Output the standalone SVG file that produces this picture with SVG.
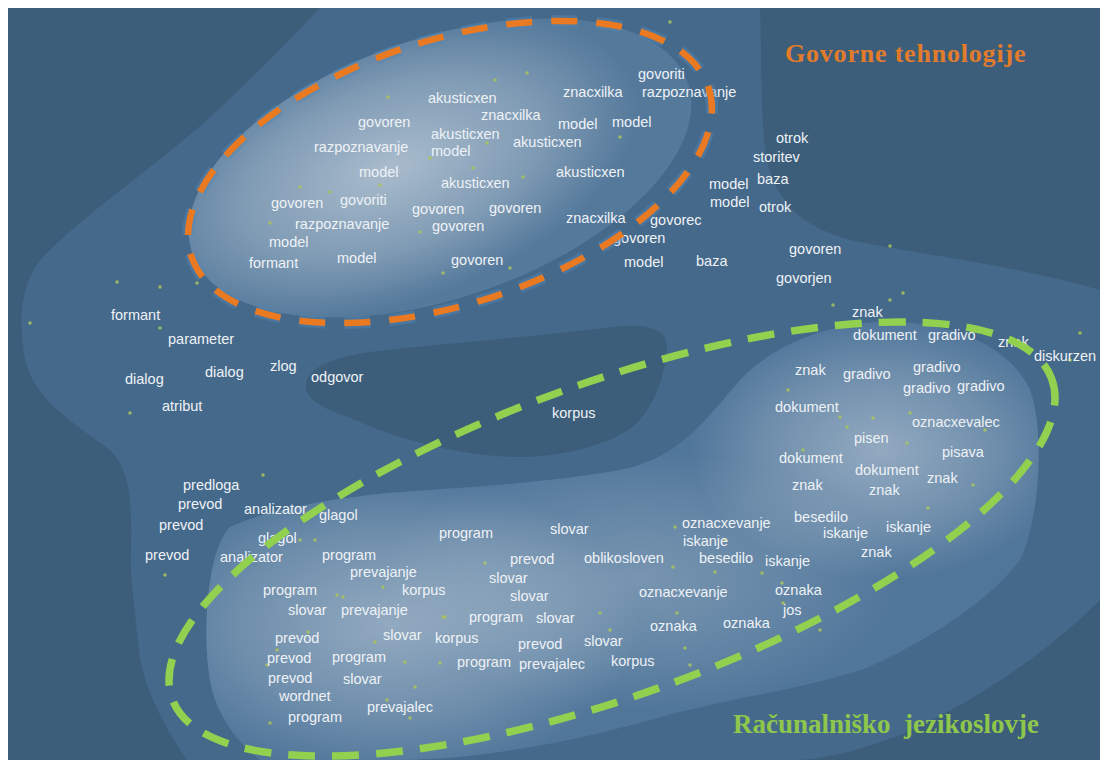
<svg xmlns="http://www.w3.org/2000/svg" width="1106" height="760" viewBox="0 0 1106 760">
<style>
.w{font-family:"Liberation Sans",Arial,sans-serif;font-size:14.5px;fill:#eef2f6}
.d{fill:#a9c35c;opacity:.85}
.t{font-family:"Liberation Serif","Times New Roman",serif;font-weight:bold}
</style>
<defs>
<radialGradient id="gw">
<stop offset="0" stop-color="#fff" stop-opacity=".5"/>
<stop offset=".6" stop-color="#fff" stop-opacity=".25"/>
<stop offset="1" stop-color="#fff" stop-opacity="0"/>
</radialGradient>
<radialGradient id="gw2">
<stop offset="0" stop-color="#fff" stop-opacity=".38"/>
<stop offset=".6" stop-color="#fff" stop-opacity=".18"/>
<stop offset="1" stop-color="#fff" stop-opacity="0"/>
</radialGradient>
<clipPath id="cb"><path d="M230,527 C260,512 320,500 387,493 C450,488 540,484 620,470 C680,458 705,420 740,380 C770,348 820,325 880,322 C950,320 1010,345 1030,390 C1045,430 1040,520 1020,560 C990,600 930,640 867,668 C800,690 720,700 650,720 C580,740 480,760 400,760 L260,760 C240,745 220,720 212,690 C203,650 206,600 212,570 C216,550 222,535 230,527 Z"/></clipPath>
<clipPath id="ct"><ellipse cx="440" cy="168" rx="262" ry="130" transform="rotate(-19 440 168)"/></clipPath>
</defs>
<rect width="1106" height="760" fill="#fff"/>
<g id="map">
<rect x="8" y="8" width="1092" height="752" fill="#3c5e7b"/>
<path d="M320,8 L760,8 C762,60 760,130 768,165 C780,205 800,225 850,240 C920,255 1000,262 1100,290 L1100,600 C1050,650 980,700 900,735 C860,750 830,758 800,760 L187,760 C160,720 140,680 138,640 C134,600 130,580 131,550 C132,500 130,470 110,450 C70,420 35,400 25,360 C18,320 20,280 45,255 C90,210 150,170 207,120 C245,85 285,45 320,8 Z" fill="#45698a"/>
<path d="M307,392 C300,370 330,358 370,352 C440,344 540,336 613,327 C645,323 668,328 667,348 C665,375 655,405 635,425 C610,445 560,458 513,457 C460,455 400,440 360,422 C335,412 312,405 307,392 Z" fill="#3c5e7b"/>
<ellipse cx="440" cy="168" rx="262" ry="130" transform="rotate(-19 440 168)" fill="#54799b"/>
<g clip-path="url(#ct)">
<ellipse cx="390" cy="168" rx="260" ry="135" transform="rotate(-19 390 168)" fill="url(#gw)"/>
</g>
<path d="M230,527 C260,512 320,500 387,493 C450,488 540,484 620,470 C680,458 705,420 740,380 C770,348 820,325 880,322 C950,320 1010,345 1030,390 C1045,430 1040,520 1020,560 C990,600 930,640 867,668 C800,690 720,700 650,720 C580,740 480,760 400,760 L260,760 C240,745 220,720 212,690 C203,650 206,600 212,570 C216,550 222,535 230,527 Z" fill="#50769a"/>
<g clip-path="url(#cb)">
<ellipse cx="390" cy="625" rx="250" ry="150" fill="url(#gw2)"/>
<ellipse cx="880" cy="450" rx="190" ry="130" fill="url(#gw2)"/>
<ellipse cx="640" cy="580" rx="260" ry="130" fill="url(#gw2)" opacity=".6"/>
</g>
</g>
<g id="dots">
<circle class="d" cx="117" cy="282" r="1.8"/><circle class="d" cx="160" cy="287" r="1.8"/><circle class="d" cx="197" cy="283" r="1.8"/><circle class="d" cx="30" cy="323" r="1.8"/><circle class="d" cx="160" cy="328" r="1.8"/><circle class="d" cx="130" cy="413" r="1.8"/>
<circle class="d" cx="388" cy="97" r="1.8"/><circle class="d" cx="495" cy="80" r="1.8"/><circle class="d" cx="527" cy="73" r="1.8"/><circle class="d" cx="473" cy="168" r="1.8"/><circle class="d" cx="430" cy="158" r="1.8"/><circle class="d" cx="300" cy="187" r="1.8"/><circle class="d" cx="330" cy="192" r="1.8"/><circle class="d" cx="380" cy="185" r="1.8"/><circle class="d" cx="270" cy="223" r="1.8"/><circle class="d" cx="443" cy="273" r="1.8"/><circle class="d" cx="510" cy="268" r="1.8"/><circle class="d" cx="420" cy="232" r="1.8"/><circle class="d" cx="523" cy="177" r="1.8"/><circle class="d" cx="487" cy="143" r="1.8"/><circle class="d" cx="620" cy="137" r="1.8"/><circle class="d" cx="670" cy="22" r="1.8"/>
<circle class="d" cx="890" cy="246" r="1.8"/><circle class="d" cx="903" cy="293" r="1.8"/><circle class="d" cx="833" cy="305" r="1.8"/><circle class="d" cx="890" cy="300" r="1.8"/><circle class="d" cx="1080" cy="333" r="1.8"/><circle class="d" cx="788" cy="390" r="1.8"/><circle class="d" cx="840" cy="417" r="1.8"/><circle class="d" cx="873" cy="418" r="1.8"/><circle class="d" cx="847" cy="427" r="1.8"/><circle class="d" cx="910" cy="413" r="1.8"/><circle class="d" cx="985" cy="430" r="1.8"/><circle class="d" cx="907" cy="443" r="1.8"/><circle class="d" cx="803" cy="450" r="1.8"/><circle class="d" cx="973" cy="485" r="1.8"/><circle class="d" cx="928" cy="508" r="1.8"/><circle class="d" cx="1070" cy="360" r="1.8"/>
<circle class="d" cx="263" cy="475" r="1.8"/><circle class="d" cx="315" cy="540" r="1.8"/><circle class="d" cx="300" cy="540" r="1.8"/><circle class="d" cx="165" cy="575" r="1.8"/><circle class="d" cx="337" cy="595" r="1.8"/><circle class="d" cx="343" cy="597" r="1.8"/><circle class="d" cx="383" cy="587" r="1.8"/><circle class="d" cx="445" cy="617" r="1.8"/><circle class="d" cx="308" cy="632" r="1.8"/><circle class="d" cx="375" cy="642" r="1.8"/><circle class="d" cx="277" cy="650" r="1.8"/><circle class="d" cx="267" cy="665" r="1.8"/><circle class="d" cx="405" cy="662" r="1.8"/><circle class="d" cx="415" cy="687" r="1.8"/><circle class="d" cx="387" cy="700" r="1.8"/><circle class="d" cx="270" cy="723" r="1.8"/><circle class="d" cx="410" cy="718" r="1.8"/>
<circle class="d" cx="675" cy="527" r="1.8"/><circle class="d" cx="725" cy="540" r="1.8"/><circle class="d" cx="485" cy="563" r="1.8"/><circle class="d" cx="673" cy="567" r="1.8"/><circle class="d" cx="715" cy="572" r="1.8"/><circle class="d" cx="762" cy="573" r="1.8"/><circle class="d" cx="782" cy="583" r="1.8"/><circle class="d" cx="443" cy="617" r="1.8"/><circle class="d" cx="600" cy="613" r="1.8"/><circle class="d" cx="610" cy="630" r="1.8"/><circle class="d" cx="677" cy="613" r="1.8"/><circle class="d" cx="783" cy="603" r="1.8"/><circle class="d" cx="685" cy="648" r="1.8"/><circle class="d" cx="440" cy="663" r="1.8"/><circle class="d" cx="690" cy="665" r="1.8"/><circle class="d" cx="820" cy="630" r="1.8"/>
</g>
<g id="labels">
<text class="w" x="428" y="103">akusticxen</text>
<text class="w" x="481" y="120">znacxilka</text>
<text class="w" x="358" y="127">govoren</text>
<text class="w" x="431" y="139">akusticxen</text>
<text class="w" x="513" y="147">akusticxen</text>
<text class="w" x="314" y="152">razpoznavanje</text>
<text class="w" x="431" y="156">model</text>
<text class="w" x="359" y="177">model</text>
<text class="w" x="441" y="188">akusticxen</text>
<text class="w" x="271" y="208">govoren</text>
<text class="w" x="340" y="205">govoriti</text>
<text class="w" x="412" y="214">govoren</text>
<text class="w" x="489" y="213">govoren</text>
<text class="w" x="295" y="229">razpoznavanje</text>
<text class="w" x="432" y="231">govoren</text>
<text class="w" x="269" y="247">model</text>
<text class="w" x="249" y="268">formant</text>
<text class="w" x="337" y="263">model</text>
<text class="w" x="451" y="265">govoren</text>
<text class="w" x="638" y="79">govoriti</text>
<text class="w" x="563" y="97">znacxilka</text>
<text class="w" x="642" y="97">razpoznavanje</text>
<text class="w" x="558" y="129">model</text>
<text class="w" x="612" y="127">model</text>
<text class="w" x="556" y="177">akusticxen</text>
<text class="w" x="776" y="143">otrok</text>
<text class="w" x="753" y="162">storitev</text>
<text class="w" x="709" y="189">model</text>
<text class="w" x="757" y="184">baza</text>
<text class="w" x="710" y="207">model</text>
<text class="w" x="759" y="212">otrok</text>
<text class="w" x="566" y="223">znacxilka</text>
<text class="w" x="650" y="225">govorec</text>
<text class="w" x="613" y="243">govoren</text>
<text class="w" x="624" y="267">model</text>
<text class="w" x="696" y="266">baza</text>
<text class="w" x="789" y="254">govoren</text>
<text class="w" x="776" y="283">govorjen</text>
<text class="w" x="111" y="320">formant</text>
<text class="w" x="168" y="344">parameter</text>
<text class="w" x="125" y="384">dialog</text>
<text class="w" x="205" y="377">dialog</text>
<text class="w" x="270" y="371">zlog</text>
<text class="w" x="311" y="382">odgovor</text>
<text class="w" x="162" y="411">atribut</text>
<text class="w" x="552" y="418">korpus</text>
<text class="w" x="852" y="317">znak</text>
<text class="w" x="853" y="340">dokument</text>
<text class="w" x="928" y="340">gradivo</text>
<text class="w" x="998" y="347">znak</text>
<text class="w" x="1034" y="361">diskurzen</text>
<text class="w" x="795" y="375">znak</text>
<text class="w" x="843" y="379">gradivo</text>
<text class="w" x="913" y="372">gradivo</text>
<text class="w" x="903" y="393">gradivo</text>
<text class="w" x="957" y="391">gradivo</text>
<text class="w" x="775" y="412">dokument</text>
<text class="w" x="912" y="427">oznacxevalec</text>
<text class="w" x="854" y="443">pisen</text>
<text class="w" x="942" y="457">pisava</text>
<text class="w" x="779" y="463">dokument</text>
<text class="w" x="855" y="475">dokument</text>
<text class="w" x="927" y="483">znak</text>
<text class="w" x="792" y="490">znak</text>
<text class="w" x="869" y="495">znak</text>
<text class="w" x="794" y="522">besedilo</text>
<text class="w" x="886" y="532">iskanje</text>
<text class="w" x="823" y="538">iskanje</text>
<text class="w" x="861" y="557">znak</text>
<text class="w" x="765" y="566">iskanje</text>
<text class="w" x="183" y="490">predloga</text>
<text class="w" x="178" y="509">prevod</text>
<text class="w" x="244" y="514">analizator</text>
<text class="w" x="319" y="520">glagol</text>
<text class="w" x="159" y="530">prevod</text>
<text class="w" x="258" y="543">glagol</text>
<text class="w" x="145" y="560">prevod</text>
<text class="w" x="220" y="562">analizator</text>
<text class="w" x="322" y="560">program</text>
<text class="w" x="350" y="577">prevajanje</text>
<text class="w" x="263" y="595">program</text>
<text class="w" x="402" y="595">korpus</text>
<text class="w" x="288" y="615">slovar</text>
<text class="w" x="341" y="615">prevajanje</text>
<text class="w" x="275" y="643">prevod</text>
<text class="w" x="383" y="640">slovar</text>
<text class="w" x="435" y="643">korpus</text>
<text class="w" x="267" y="663">prevod</text>
<text class="w" x="332" y="662">program</text>
<text class="w" x="268" y="683">prevod</text>
<text class="w" x="343" y="684">slovar</text>
<text class="w" x="279" y="701">wordnet</text>
<text class="w" x="367" y="712">prevajalec</text>
<text class="w" x="288" y="722">program</text>
<text class="w" x="439" y="538">program</text>
<text class="w" x="550" y="534">slovar</text>
<text class="w" x="682" y="528">oznacxevanje</text>
<text class="w" x="683" y="546">iskanje</text>
<text class="w" x="510" y="564">prevod</text>
<text class="w" x="584" y="563">oblikosloven</text>
<text class="w" x="699" y="563">besedilo</text>
<text class="w" x="489" y="583">slovar</text>
<text class="w" x="510" y="601">slovar</text>
<text class="w" x="639" y="597">oznacxevanje</text>
<text class="w" x="775" y="595">oznaka</text>
<text class="w" x="783" y="615">jos</text>
<text class="w" x="469" y="622">program</text>
<text class="w" x="536" y="623">slovar</text>
<text class="w" x="650" y="631">oznaka</text>
<text class="w" x="723" y="628">oznaka</text>
<text class="w" x="518" y="649">prevod</text>
<text class="w" x="584" y="646">slovar</text>
<text class="w" x="457" y="667">program</text>
<text class="w" x="519" y="669">prevajalec</text>
<text class="w" x="611" y="666">korpus</text>
</g>
<g id="connectors">
<ellipse cx="450" cy="172" rx="272" ry="132" transform="rotate(-18 450 172)" fill="none" stroke="#4f88b8" stroke-opacity=".45" stroke-width="12" stroke-dasharray="26 19"/>
<ellipse cx="450" cy="172" rx="272" ry="132" transform="rotate(-18 450 172)" fill="none" stroke="#ea7a22" stroke-width="6.5" stroke-dasharray="26 19"/>
<ellipse cx="612" cy="539" rx="468" ry="156" transform="rotate(-20 612 539)" fill="none" stroke="#92d050" stroke-width="7.5" stroke-dasharray="27 17"/>
</g>
<g id="titles">
<text class="t" x="785" y="62" font-size="26" letter-spacing="0.8" fill="#e27b2a">Govorne tehnologije</text>
<text class="t" x="733" y="733" font-size="27" fill="#8fc64c" style="white-space:pre">Računalniško  jezikoslovje</text>
</g>
</svg>
